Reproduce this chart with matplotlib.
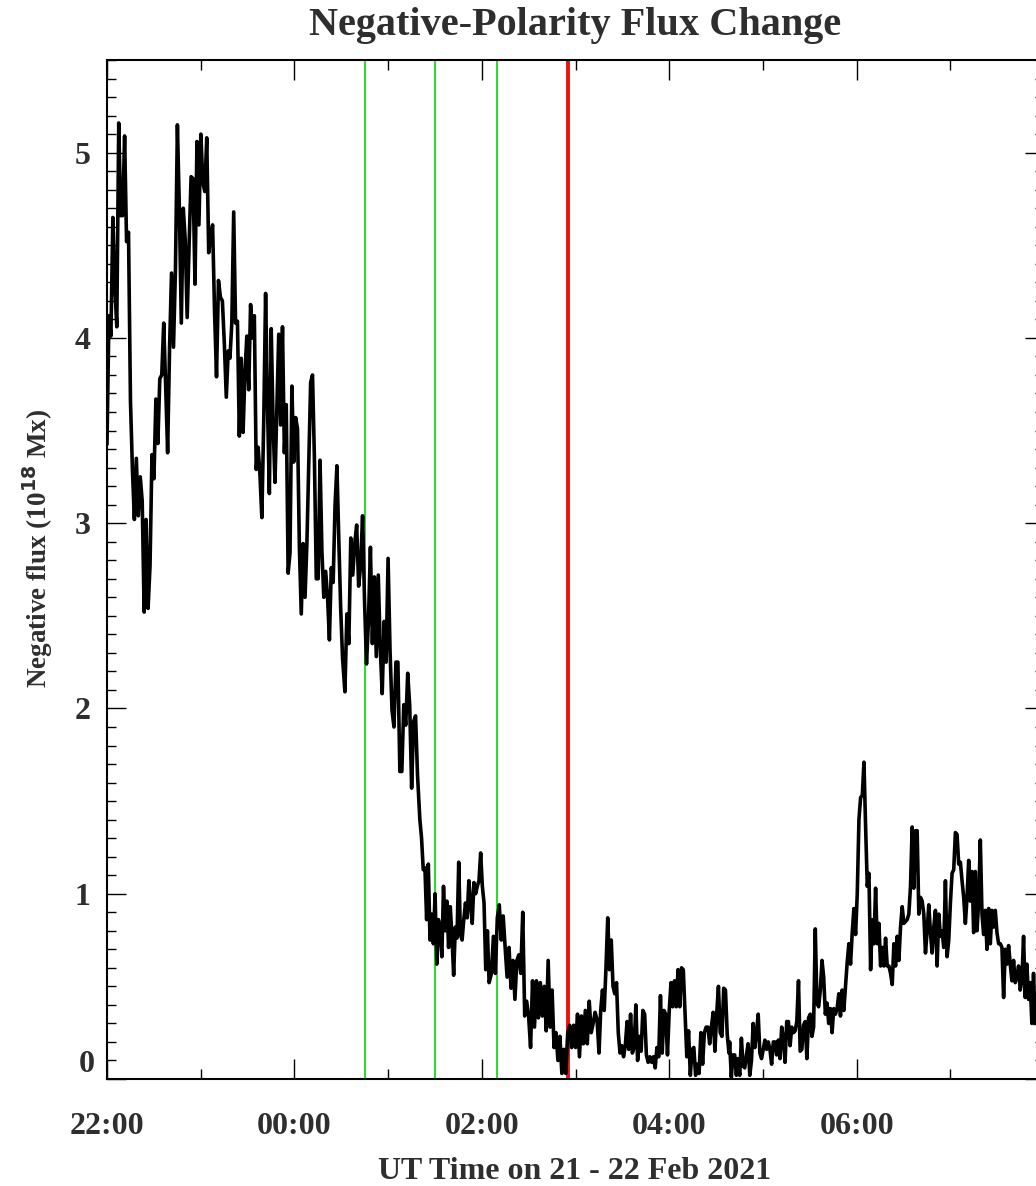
import numpy as np
import matplotlib
matplotlib.use("Agg")
import matplotlib.pyplot as plt
from matplotlib.ticker import MultipleLocator, FixedLocator, FuncFormatter

# Time axis: hours after 22:00 UT on 21 Feb 2021.
# Each segment: (time of first sample, time of last sample), flux values in 1e18 Mx.
seg_a_span = (0.0, 1.294)
seg_a = [3.43, 4.12, 4.01, 4.65, 4.28, 4.06, 5.16, 4.66, 4.66, 5.09, 4.52, 4.57,
         3.66, 3.29, 3.02, 3.35, 3.04, 3.25, 3.12, 2.52, 3.02, 2.54, 2.77, 3.37,
         3.24, 3.67, 3.43, 3.78, 3.80, 4.08, 3.74, 3.38, 3.95, 4.35, 3.95, 4.37,
         5.15, 4.70, 4.08, 4.70, 4.53, 4.11, 4.51, 4.87, 4.86, 4.29, 5.06, 4.61,
         5.10, 4.84, 4.79, 5.08, 4.46, 4.55, 4.61, 4.14, 3.79, 4.31, 4.22, 4.20,
         3.97, 3.68, 3.93]

seg_b_span = (1.312, 2.514)
seg_b = [3.89, 4.08, 4.68, 4.08, 4.09, 3.47, 3.89, 3.49, 3.81, 4.01, 3.72, 4.18,
         4.00, 4.12, 3.29, 3.41, 3.26, 3.03, 3.55, 4.24, 3.64, 3.16, 4.05, 3.53,
         3.22, 3.62, 4.02, 3.53, 4.06, 3.38, 3.64, 2.73, 2.84, 3.74, 3.33, 3.57,
         3.51, 2.87, 2.51, 2.89, 2.60, 2.89, 3.33, 3.76, 3.80, 3.35, 2.70, 2.70,
         3.34, 2.85, 2.60, 2.74, 2.60, 2.37, 2.76, 2.68, 3.10, 3.31, 2.91, 2.54,
         2.27]

seg_c_span = (2.539, 3.314)
seg_c = [2.09, 2.51, 2.35, 2.92, 2.72, 2.89, 2.99, 2.66, 2.77, 3.04, 2.58, 2.24,
         2.47, 2.87, 2.35, 2.71, 2.28, 2.72, 2.33, 2.08, 2.47, 2.25, 2.81, 2.31,
         1.99, 1.90, 2.25, 2.25, 1.66, 1.66, 2.02, 1.91, 2.19, 2.02, 1.57, 1.93,
         1.96, 1.64]

seg_d_span = (3.339, 4.078)
seg_d = [1.40, 1.30, 1.13, 1.14, 0.86, 1.16, 0.75, 0.89, 0.73, 1.00, 0.62, 0.86,
         0.80, 0.66, 1.04, 0.80, 0.96, 0.71, 0.93, 0.77, 0.56, 0.82, 0.76, 1.17,
         0.78, 0.75, 0.86, 0.95, 0.87, 1.07, 0.95, 0.84, 1.06, 1.00, 1.04, 1.07,
         1.22, 1.04, 0.95, 0.59, 0.80, 0.52]

seg_e_span = (4.103, 5.251)
seg_e = [0.57, 0.77, 0.57, 0.87, 0.94, 0.75, 0.88, 0.71, 0.55, 0.71, 0.49, 0.64,
         0.43, 0.64, 0.67, 0.57, 0.90, 0.34, 0.42, 0.34, 0.17, 0.53, 0.28, 0.53,
         0.33, 0.52, 0.34, 0.50, 0.26, 0.64, 0.28, 0.48, 0.17, 0.25, 0.10, 0.23,
         0.03, 0.16, 0.03, 0.25, 0.29, 0.17, 0.29, 0.17, 0.35, 0.12, 0.34, 0.19,
         0.37, 0.19, 0.42, 0.25, 0.30, 0.36, 0.32, 0.14]

seg_f_span = (5.269, 6.638)
seg_f = [0.37, 0.48, 0.37, 0.60, 0.87, 0.59, 0.75, 0.50, 0.46, 0.52, 0.25, 0.14,
         0.18, 0.12, 0.18, 0.31, 0.16, 0.35, 0.14, 0.17, 0.40, 0.10, 0.23, 0.15,
         0.37, 0.35, 0.13, 0.09, 0.12, 0.09, 0.12, 0.06, 0.17, 0.12, 0.45, 0.14,
         0.37, 0.35, 0.13, 0.37, 0.52, 0.39, 0.53, 0.39, 0.59, 0.39, 0.60, 0.59,
         0.35, 0.12, 0.26, 0.02, 0.16, 0.17, 0.02, 0.08, 0.03, 0.25, 0.08, 0.25,
         0.28, 0.28, 0.19, 0.28, 0.36, 0.15, 0.35, 0.50, 0.25, 0.23, 0.49, 0.48,
         0.24, 0.14]

seg_g_span = (6.645, 8.025)
seg_g = [0.20, 0.01, 0.13, 0.13, 0.02, 0.11, 0.02, 0.22, 0.07, 0.06, 0.13, 0.19,
         0.02, 0.10, 0.30, 0.17, 0.25, 0.35, 0.14, 0.11, 0.16, 0.21, 0.16, 0.20,
         0.16, 0.08, 0.20, 0.20, 0.13, 0.21, 0.11, 0.28, 0.22, 0.09, 0.31, 0.31,
         0.18, 0.28, 0.25, 0.26, 0.31, 0.53, 0.15, 0.16, 0.29, 0.31, 0.11, 0.33,
         0.35, 0.23, 0.28, 0.81, 0.41, 0.39, 0.48, 0.64, 0.55, 0.35, 0.41, 0.30,
         0.38, 0.25, 0.38, 0.35, 0.38, 0.46, 0.34, 0.48, 0.37, 0.50, 0.63, 0.73,
         0.62, 0.79, 0.92, 0.78, 1.00, 1.40]

seg_h_span = (8.043, 9.906)
seg_h = [1.52, 1.53, 1.71, 1.36, 1.04, 1.11, 0.59, 0.86, 0.73, 1.03, 0.73, 0.84,
         0.61, 0.71, 0.61, 0.76, 0.61, 0.61, 0.57, 0.51, 0.73, 0.61, 0.77, 0.64,
         0.82, 0.93, 0.84, 0.85, 0.86, 0.89, 1.04, 1.36, 1.03, 1.34, 1.34, 0.89,
         0.98, 0.96, 0.89, 0.68, 0.80, 0.94, 0.79, 0.68, 0.82, 0.91, 0.61, 0.89,
         0.77, 0.80, 0.71, 1.07, 0.66, 0.75, 0.95, 1.11, 1.13, 1.33, 1.32, 1.16,
         1.17, 1.07, 0.98, 0.84, 0.98, 1.18, 0.96, 1.12, 0.79, 1.12, 0.80, 0.96,
         1.29, 0.89, 0.78, 0.91, 0.70, 0.92, 0.73, 0.91, 0.82, 0.91, 0.79, 0.73,
         0.73, 0.71, 0.44, 0.70, 0.62, 0.72, 0.62, 0.53, 0.64, 0.52, 0.55, 0.61,
         0.48, 0.53, 0.77, 0.44, 0.62, 0.43, 0.52, 0.30, 0.57, 0.30]

segments = [(seg_a_span, seg_a), (seg_b_span, seg_b), (seg_c_span, seg_c),
            (seg_d_span, seg_d), (seg_e_span, seg_e), (seg_f_span, seg_f),
            (seg_g_span, seg_g), (seg_h_span, seg_h)]

# event markers (hours after 22:00): 00:45, 01:30, 02:10 and 02:55 UT
green_times = [2.75, 3.5, 4.1667]
red_time = 4.9167

tick_hours = [0, 2, 4, 6, 8]
tick_labels = ["22:00", "00:00", "02:00", "04:00", "06:00", ""]

t = np.concatenate([np.linspace(s[0], s[1], len(v)) for s, v in segments])
flux = np.concatenate([np.asarray(v, float) for _, v in segments])

text_col = "#2e2e2e"
plt.rcParams["font.family"] = ["Liberation Serif", "DejaVu Serif"]
plt.rcParams["font.weight"] = "bold"

fig = plt.figure(figsize=(10.36, 11.86), dpi=100)
ax = fig.add_axes([107 / 1036, 107 / 1186, 937 / 1036, 1019 / 1186])

for g in green_times:
    ax.axvline(g, color="#22e022", lw=1.4, zorder=1)
ax.axvline(red_time, color="#ee1111", lw=2.8, zorder=1)
ax.plot(t, flux, color="black", lw=2.6, zorder=2)

ax.set_xlim(0, 10)
ax.set_ylim(0, 5.5)

ax.xaxis.set_major_locator(FixedLocator(tick_hours + [10]))
ax.set_xticklabels(tick_labels)
ax.xaxis.set_minor_locator(MultipleLocator(1))
ax.yaxis.set_major_locator(MultipleLocator(1))
ax.yaxis.set_minor_locator(MultipleLocator(0.1))
# the "0" label is drawn separately, lifted above the bottom axis as in IDL output
ax.yaxis.set_major_formatter(FuncFormatter(lambda v, _: "" if abs(v) < 1e-9 else f"{v:.0f}"))

ax.tick_params(which="both", direction="in", top=True, right=True, colors="black",
               width=1.0, labelcolor=text_col)
ax.tick_params(axis="x", which="major", length=14.5, pad=24, labelsize=23)
ax.tick_params(axis="x", which="minor", length=7.2)
ax.tick_params(axis="y", which="major", length=13.7, pad=12, labelsize=23)
ax.tick_params(axis="y", which="minor", length=6.5)
for sp in ax.spines.values():
    sp.set_linewidth(1.5)

ax.text(-0.0128, 0, "0", transform=ax.get_yaxis_transform(), ha="right",
        va="bottom", fontsize=23, fontweight="bold", color=text_col)

ax.set_title("Negative-Polarity Flux Change", fontsize=29, fontweight="bold",
             color=text_col, pad=18)
fig.text(575 / 1036, 7 / 1186, "UT Time on 21 - 22 Feb 2021", fontsize=23,
         fontweight="bold", color=text_col, ha="center", va="baseline")
ax.set_ylabel(r"Negative flux (10$^{\mathbf{18}}$ Mx)", fontsize=19.5,
              fontweight="bold", color=text_col)
ax.yaxis.set_label_coords(-0.056, 0.521)

fig.savefig("out.png", dpi=100)
